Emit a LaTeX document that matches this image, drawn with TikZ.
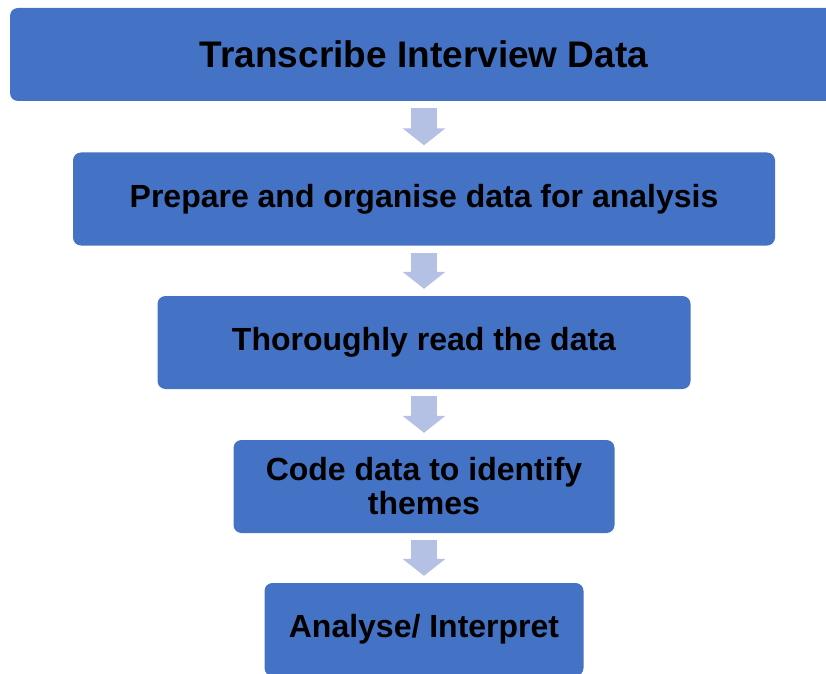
\documentclass[tikz,border=0pt]{standalone}
\usepackage{fontspec}
\setmainfont{Liberation Sans}
\usetikzlibrary{arrows.meta}
\definecolor{cajaazul}{HTML}{4472C4}
\definecolor{flechaazul}{RGB}{180,192,228}

\begin{document}
\begin{tikzpicture}[x=1pt,y=1pt,
  caja/.style={fill=cajaazul,rounded corners=8pt,minimum height=93pt,inner sep=0pt,align=center,font=\bfseries\fontsize{32}{34}\selectfont},
  flecha/.style={draw=flechaazul,line width=26pt,-{Triangle[width=42pt,length=17pt]},shorten <=7pt,shorten >=7pt}]
  \useasboundingbox (0,0) rectangle (826,673);
  % cajas del proceso (de arriba abajo)
  \node[caja,minimum width=828pt,font=\bfseries\fontsize{37}{40}\selectfont] (transcribir) at (424,618.5) {Transcribe Interview Data};
  \node[caja,minimum width=702pt] (preparar) at (424,474) {Prepare and organise data for analysis};
  \node[caja,minimum width=533pt] (leer) at (424,330.5) {Thoroughly read the data};
  \node[caja,minimum width=381pt] (codificar) at (424,186.5) {Code data to identify\\themes};
  \node[caja,minimum width=319pt] (analizar) at (424,43.5) {Analyse/ Interpret};
  % flechas de bloque entre cajas
  \draw[flecha] (transcribir.south) -- (transcribir.south |- preparar.north);
  \draw[flecha] (preparar.south) -- (preparar.south |- leer.north);
  \draw[flecha] (leer.south) -- (leer.south |- codificar.north);
  \draw[flecha] (codificar.south) -- (codificar.south |- analizar.north);
\end{tikzpicture}
\end{document}
